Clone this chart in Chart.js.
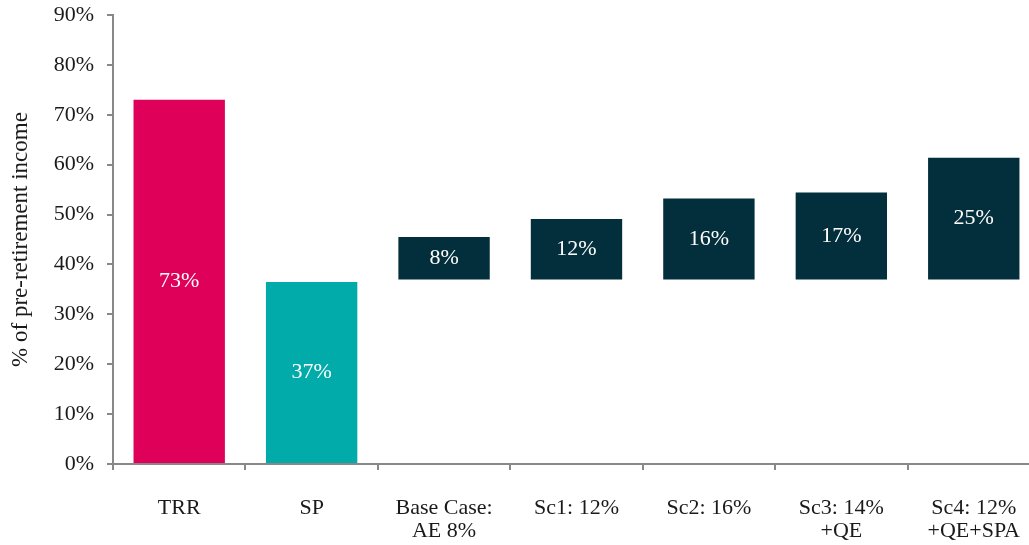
<!DOCTYPE html>
<html>
<head>
<meta charset="utf-8">
<script src="https://cdn.jsdelivr.net/npm/chart.js@4.4.0/dist/chart.umd.min.js"></script>
<style>
  html, body { margin: 0; padding: 0; background: #fff; overflow: hidden; }
  #wrap { width: 1047px; height: 545px; }
</style>
</head>
<body>
<div id="wrap"><canvas id="myChart"></canvas></div>
<script>
const categories = ['TRR', 'SP', ['Base Case:', 'AE 8%'], 'Sc1: 12%', 'Sc2: 16%', ['Sc3: 14%', '+QE'], ['Sc4: 12%', '+QE+SPA']];
const barStart = [0, 0, 37, 37, 37, 37, 37];
const barEnd = [73, 36.5, 45.5, 49.1, 53.2, 54.4, 61.4];
const barLabels = ['73%', '37%', '8%', '12%', '16%', '17%', '25%'];
const barColors = ['#df005a', '#00aba9', '#032e3c', '#032e3c', '#032e3c', '#032e3c', '#032e3c'];
const yTicks = [0, 10, 20, 30, 40, 50, 60, 70, 80, 90];

const serif = "'Liberation Serif', 'DejaVu Serif', serif";

// writes the value in the middle of each bar
const barText = {
    id: 'barText',
    afterDatasetsDraw(chart) {
        const ctx = chart.ctx;
        const meta = chart.getDatasetMeta(0);
        ctx.save();
        ctx.fillStyle = '#ffffff';
        ctx.font = '22px ' + serif;
        ctx.textAlign = 'center';
        ctx.textBaseline = 'middle';
        meta.data.forEach((bar, i) => {
            const mid = (bar.y + bar.base) / 2;
            ctx.fillText(barLabels[i], bar.x, mid);
        });
        ctx.restore();
    }
};

const ctx = document.getElementById('myChart').getContext('2d');
new Chart(ctx, {
    type: 'bar',
    data: {
        labels: categories,
        datasets: [{
            data: barStart.map((s, i) => [s, barEnd[i]]),
            backgroundColor: barColors,
            borderWidth: 0,
            barPercentage: 0.69,
            categoryPercentage: 1
        }]
    },
    options: {
        responsive: true,
        maintainAspectRatio: false,
        animation: false,
        layout: { padding: { top: 15, right: 0, left: 0, bottom: 0 } },
        plugins: {
            legend: { display: false },
            tooltip: { enabled: false }
        },
        scales: {
            y: {
                min: 0,
                max: 90,
                afterBuildTicks: (scale) => { scale.ticks = yTicks.map(v => ({ value: v })); },
                afterFit: (scale) => {
                    scale.width = 113;
                    scale.paddingTop = 0;
                    scale.paddingBottom = 0;
                },
                border: { color: '#888888', width: 2 },
                grid: { drawOnChartArea: false, color: '#888888', lineWidth: 2, tickLength: 6 },
                ticks: {
                    padding: 13,
                    color: '#1a1a1a',
                    font: { family: serif, size: 22 },
                    callback: v => v + '%'
                },
                title: {
                    display: true,
                    text: '% of pre-retirement income',
                    color: '#1a1a1a',
                    font: { family: serif, size: 23 },
                    padding: { top: 7, bottom: 0 }
                }
            },
            x: {
                afterFit: (scale) => { scale.height = 81; },
                border: { color: '#888888', width: 2 },
                grid: { drawOnChartArea: false, offset: true, color: '#888888', lineWidth: 2, tickLength: 6 },
                ticks: {
                    padding: 27,
                    color: '#1a1a1a',
                    maxRotation: 0,
                    autoSkip: false,
                    font: { family: serif, size: 22, lineHeight: 1.05 }
                }
            }
        }
    },
    plugins: [barText]
});
</script>
</body>
</html>
